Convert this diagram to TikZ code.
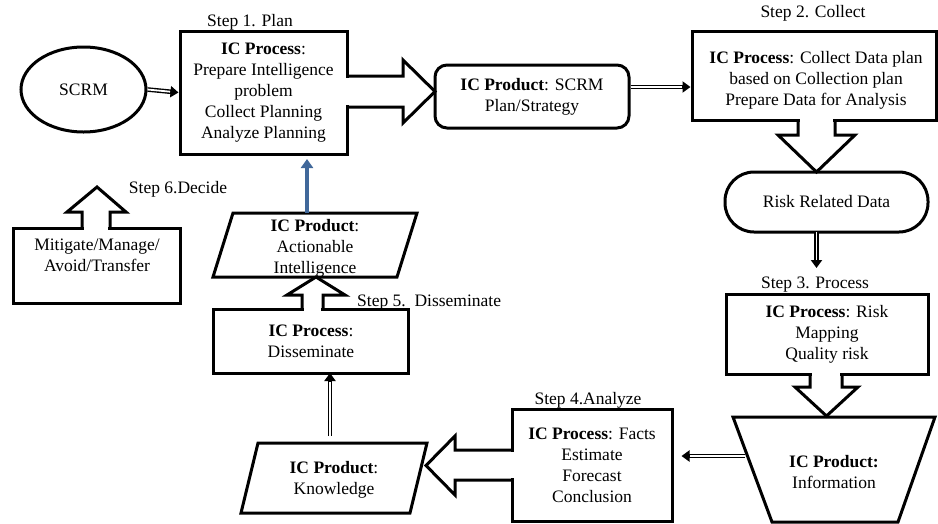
\documentclass[tikz,border=0pt]{standalone}
\usepackage{fontspec}
\setmainfont{Liberation Serif}
\newfontfamily\tnr{Liberation Serif}
\usetikzlibrary{shapes.geometric,arrows.meta,calc}
\definecolor{arrowblue}{HTML}{41689A}
\begin{document}
\begin{tikzpicture}[x=1pt,y=-1pt,line join=miter,
  every node/.style={font=\tnr\fontsize{17.5}{21}\selectfont,align=center,inner sep=0pt},
  boxshape/.style={draw,line width=3pt,rectangle},
  outl/.style={draw,line width=3pt},
  dbl/.style={draw=black,line width=4.6pt,-{Triangle[length=8pt,width=11pt]},
    postaction={draw=white,line width=1.8pt,shorten >=8.5pt,-}},
  bluearr/.style={draw=arrowblue,line width=4.5pt,-{Triangle[length=9pt,width=12pt]}},
  steplbl/.style={font=\tnr\fontsize{17.5}{21}\selectfont}]
\useasboundingbox (0,0) rectangle (938,523);

% ---- shapes with text
\node[ellipse,outl,minimum width=125pt,minimum height=85pt] (scrm) at (83.5,89.5) {SCRM};
\node[boxshape,minimum width=167pt,minimum height=123pt] (s1) at (263.5,92.5)
  {\textbf{IC Process}:\\Prepare Intelligence\\problem\\Collect Planning\\Analyze Planning};
\node[boxshape,rounded corners=12pt,minimum width=194pt,minimum height=63pt] (prod) at (532,96.5)
  {\textbf{IC Product}: SCRM\\Plan/Strategy};
\node[boxshape,minimum width=244pt,minimum height=89pt] (s2) at (814,75.5) {};
\node (s2txt) at (816,80) {\textbf{IC Process}: Collect Data plan\\based on Collection plan\\Prepare Data for Analysis};
\node[boxshape,rounded corners=29pt,minimum width=203pt,minimum height=60pt] (risk) at (826.5,202) {Risk Related Data};
\node[boxshape,minimum width=202pt,minimum height=80pt] (s3) at (827,334)
  {\textbf{IC Process}: Risk\\Mapping\\Quality risk};
\node[boxshape,minimum width=160pt,minimum height=112pt] (s4) at (592,465)
  {\textbf{IC Process}: Facts\\Estimate\\Forecast\\Conclusion};
\node[boxshape,minimum width=195pt,minimum height=64pt] (dis) at (311,341)
  {\textbf{IC Process}:\\Disseminate};
\node[boxshape,minimum width=167pt,minimum height=75pt] (s6) at (96.5,265.5) {};
\node (s6txt) at (97,255) {Mitigate/Manage/\\Avoid/Transfer};

% ---- polygons
\draw[outl] (733,417) -- (935,417) -- (898,522) -- (772,522) -- cycle;
\node (info) at (834,472) {\textbf{IC Product:}\\Information};
\draw[outl] (258,443) -- (427,443) -- (410,513) -- (241,513) -- cycle;
\node (know) at (334,480) {\textbf{IC Product}:\\Knowledge};
\draw[outl] (233,213) -- (417,213) -- (397,277) -- (213,277) -- cycle;
\node (act) at (315,248) {\textbf{IC Product}:\\Actionable\\Intelligence};

% ---- block arrows
\fill[white] (344,77.6) rectangle (350,105.4);
\draw[outl] (347,76) -- (403,76) -- (403,60) -- (435,91.5) -- (403,123) -- (403,107) -- (347,107);
\fill[white] (799.6,117) rectangle (833.4,123);
\draw[outl] (798,120) -- (798,135) -- (778,135) -- (816.5,172) -- (855,135) -- (835,135) -- (835,120);
\fill[white] (811.6,371) rectangle (840.4,377);
\draw[outl] (810,374) -- (810,387) -- (795,387) -- (826.5,416) -- (858,387) -- (842,387) -- (842,374);
\fill[white] (509,451.6) rectangle (515,478.4);
\draw[outl] (512,450) -- (455,450) -- (455,436) -- (426,465.5) -- (455,495) -- (455,480) -- (512,480);
\fill[white] (303.6,306) rectangle (321.4,312);
\draw[outl] (302,309) -- (302,295) -- (287,295) -- (316,277) -- (345,295) -- (323,295) -- (323,309);
\fill[white] (83.6,225) rectangle (108.4,231);
\draw[outl] (82,228) -- (82,212) -- (67,212) -- (97,187) -- (126,212) -- (110,212) -- (110,228);

% ---- double-line connectors
\coordinate (d2a) at ($(prod.east)+(0,-9.5)$);
\coordinate (d2b) at ($(s2.west)+(0,11.5)$);
\draw[dbl] (scrm.east) -- (s1.west);
\draw[dbl] (d2a) -- (d2b);
\coordinate (d3b) at (816.5,268);
\draw[dbl] (816.5,232) -- (d3b);
\coordinate (d4a) at (745,456);
\coordinate (d4b) at ($(s4.east)+(8,-9)$);
\draw[dbl] (d4a) -- (d4b);
\coordinate (d5a) at (330,436);
\coordinate (d5b) at (330,373);
\draw[dbl] (d5a) -- (d5b);

% ---- blue arrow
\coordinate (actTop) at (307,213);
\coordinate (blueEnd) at (307,159);
\draw[bluearr] (actTop) -- (blueEnd);

% ---- step labels
\node[steplbl] (l1) at (250,22) {Step 1. Plan};
\node[steplbl] (l2) at (813,13) {Step 2. Collect};
\node[steplbl] (l3) at (815,285) {Step 3. Process};
\node[steplbl] (l4) at (588,400) {Step 4.Analyze};
\node[steplbl,anchor=west] (l5) at (357,303) {Step 5.\ \ Disseminate};
\node[steplbl] (l6) at (178,189) {Step 6.Decide};
\end{tikzpicture}
\end{document}
